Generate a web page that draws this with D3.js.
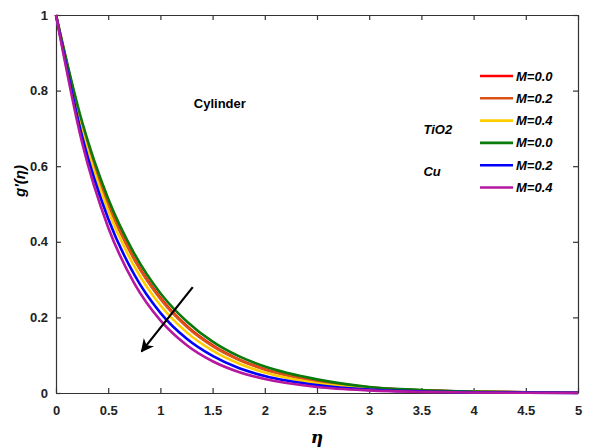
<!DOCTYPE html>
<html>
<head>
<meta charset="utf-8">
<script src="https://cdn.jsdelivr.net/npm/d3@7"></script>
<style>
  body { margin: 0; background: #fff; }
  svg { display: block; font-family: "Liberation Sans", Arial, sans-serif; }
  .tick text { font-size: 13px; font-weight: bold; fill: #222; }
</style>
</head>
<body>
<svg width="602" height="448"></svg>
<script>
// eta sample points and read-off g'(eta) values
var eta = [0, 0.25, 0.5, 0.75, 1, 1.25, 1.5, 1.75, 2, 2.5, 3, 3.5, 4, 4.5, 5];

var tio2_M0 = [1, 0.708, 0.502, 0.355, 0.252, 0.178, 0.126, 0.089, 0.063, 0.032, 0.015, 0.007, 0.0035, 0.0017, 0.0008];
var tio2_M2 = [1, 0.706, 0.499, 0.353, 0.249, 0.176, 0.124, 0.088, 0.062, 0.031, 0.014, 0.007, 0.0035, 0.0017, 0.0008];
var tio2_M4 = [1, 0.694, 0.482, 0.335, 0.232, 0.161, 0.112, 0.078, 0.054, 0.026, 0.012, 0.006, 0.003, 0.0014, 0.0007];
var cu_M0   = [1, 0.717, 0.514, 0.369, 0.264, 0.190, 0.136, 0.0975, 0.070, 0.036, 0.016, 0.008, 0.004, 0.002, 0.001];
var cu_M2   = [1, 0.679, 0.461, 0.313, 0.212, 0.144, 0.098, 0.066, 0.045, 0.021, 0.009, 0.004, 0.002, 0.001, 0.0004];
var cu_M4   = [1, 0.662, 0.438, 0.290, 0.192, 0.127, 0.084, 0.0557, 0.037, 0.016, 0.007, 0.003, 0.0013, 0.0006, 0.0003];

var seriesNames = ["M=0.0", "M=0.2", "M=0.4", "M=0.0", "M=0.2", "M=0.4"];
var seriesColors = ["#ff0000", "#d95319", "#ffcc00", "#0a7a0a", "#0000ff", "#b5179e"];
var seriesValues = [tio2_M0, tio2_M2, tio2_M4, cu_M0, cu_M2, cu_M4];

var xTicks = [0, 0.5, 1, 1.5, 2, 2.5, 3, 3.5, 4, 4.5, 5];
var yTicks = [0, 0.2, 0.4, 0.6, 0.8, 1];

// arrow (direction of increasing M), in data units
var arrowFrom = [1.31, 0.28];
var arrowTo = [0.82, 0.11];

var svg = d3.select("svg"),
  margin = { top: 15, right: 24, bottom: 55, left: 56 },
  width = 602 - margin.left - margin.right,
  height = 448 - margin.top - margin.bottom;

var g = svg.append("g").attr("transform", "translate(" + margin.left + "," + margin.top + ")");

var x = d3.scaleLinear().domain([0, 5]).range([0, width]);
var y = d3.scaleLinear().domain([0, 1]).range([height, 0]);

// axes with inward ticks, box on all sides
function styleAxis(sel) {
  sel.select(".domain").attr("stroke", "#333").attr("stroke-width", 1.2);
  sel.selectAll(".tick line").attr("stroke", "#333").attr("stroke-width", 1.2);
}

g.append("g").attr("transform", "translate(0," + height + ")")
  .call(d3.axisBottom(x).tickValues(xTicks).tickFormat(d3.format("")).tickSizeInner(-5).tickSizeOuter(0).tickPadding(13))
  .call(styleAxis);
g.append("g")
  .call(d3.axisLeft(y).tickValues(yTicks).tickFormat(d3.format("")).tickSizeInner(-5).tickSizeOuter(0).tickPadding(8))
  .call(styleAxis);
g.append("g")
  .call(d3.axisTop(x).tickValues(xTicks).tickFormat("").tickSizeInner(-5).tickSizeOuter(0))
  .call(styleAxis);
g.append("g").attr("transform", "translate(" + width + ",0)")
  .call(d3.axisRight(y).tickValues(yTicks).tickFormat("").tickSizeInner(-5).tickSizeOuter(0))
  .call(styleAxis);

// curves
var line = d3.line()
  .x(function (d, i) { return x(eta[i]); })
  .y(function (d) { return y(d); })
  .curve(d3.curveMonotoneX);

seriesValues.forEach(function (vals, k) {
  g.append("path")
    .datum(vals)
    .attr("fill", "none")
    .attr("stroke", seriesColors[k])
    .attr("stroke-width", 2.6)
    .attr("d", line);
});

// arrow
svg.append("defs").append("marker")
  .attr("id", "head")
  .attr("viewBox", "0 0 10 10")
  .attr("refX", 9).attr("refY", 5)
  .attr("markerWidth", 6).attr("markerHeight", 6)
  .attr("orient", "auto")
  .append("path")
  .attr("d", "M0,0 L10,5 L0,10 L3,5 Z")
  .attr("fill", "#000");

g.append("line")
  .attr("x1", x(arrowFrom[0])).attr("y1", y(arrowFrom[1]))
  .attr("x2", x(arrowTo[0])).attr("y2", y(arrowTo[1]))
  .attr("stroke", "#000").attr("stroke-width", 2.2)
  .attr("marker-end", "url(#head)");

// annotations
g.append("text").attr("x", x(1.32)).attr("y", y(0.755))
  .style("font-size", "13px").style("font-weight", "bold").text("Cylinder");
g.append("text").attr("x", x(3.52)).attr("y", y(0.685))
  .style("font-size", "13px").style("font-weight", "bold").style("font-style", "italic").text("TiO2");
g.append("text").attr("x", x(3.52)).attr("y", y(0.575))
  .style("font-size", "13px").style("font-weight", "bold").style("font-style", "italic").text("Cu");

// legend
var legend = g.append("g").attr("transform", "translate(" + (480 - margin.left) + "," + (76 - margin.top) + ")");
seriesNames.forEach(function (name, i) {
  var row = legend.append("g").attr("transform", "translate(0," + (i * 22.3) + ")");
  row.append("line").attr("x1", 0).attr("x2", 33).attr("y1", 0).attr("y2", 0)
    .attr("stroke", seriesColors[i]).attr("stroke-width", 2.6);
  row.append("text").attr("x", 36).attr("y", 4.5)
    .style("font-size", "13px").style("font-weight", "bold").style("font-style", "italic")
    .text(name);
});

// axis labels
svg.append("text")
  .attr("transform", "translate(25,181) rotate(-90)")
  .attr("text-anchor", "middle")
  .style("font-size", "15px").style("font-weight", "bold").style("font-style", "italic")
  .text("g'(η)");
svg.append("text")
  .attr("x", margin.left + width / 2).attr("y", 443)
  .attr("text-anchor", "middle")
  .style("font-size", "17px").style("font-weight", "bold").style("font-style", "italic")
  .style("font-family", "'DejaVu Serif', serif")
  .text("η");
</script>
</body>
</html>
